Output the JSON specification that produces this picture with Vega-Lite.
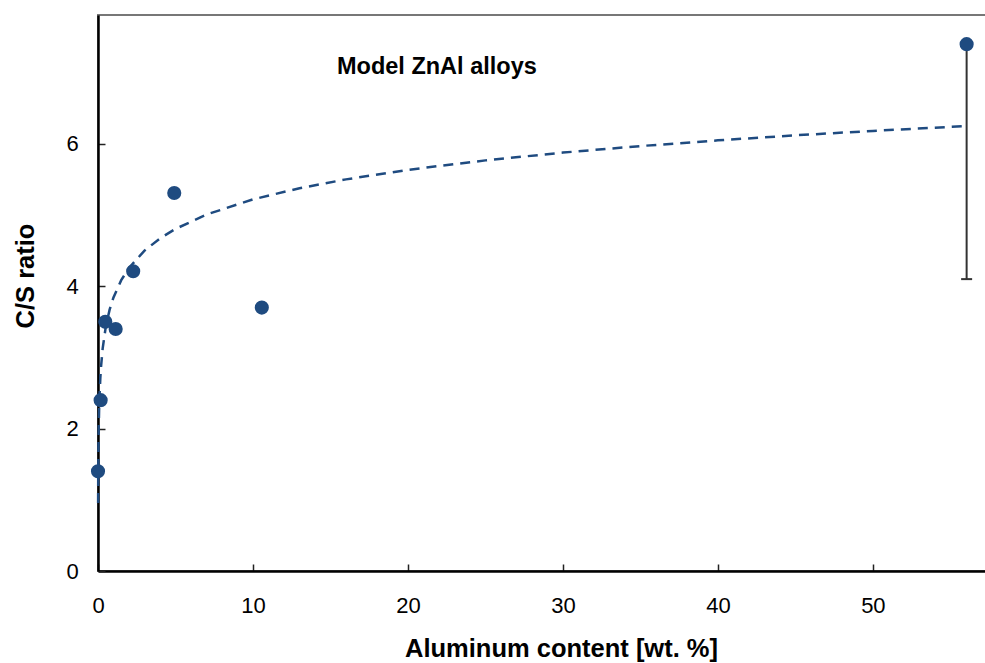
{
  "$schema": "https://vega.github.io/schema/vega-lite/v6.json",
  "width": 888,
  "height": 556,
  "autosize": {"type": "none"},
  "padding": {"left": 98, "top": 15, "right": 0, "bottom": 92},
  "background": "white",
  "config": {
    "view": {"stroke": "#777777", "strokeWidth": 2},
    "font": "Liberation Sans"
  },
  "title": {
    "text": "Model ZnAl alloys",
    "anchor": "start",
    "frame": "group",
    "dx": 239,
    "offset": -82,
    "baseline": "alphabetic",
    "fontSize": 23.5,
    "fontWeight": "bold",
    "color": "black",
    "font": "Liberation Sans"
  },
  "datasets": {
    "fit": [
      {"x": 0.008, "y": 0.956},
      {"x": 0.01, "y": 1.089},
      {"x": 0.015, "y": 1.331},
      {"x": 0.02, "y": 1.504},
      {"x": 0.03, "y": 1.746},
      {"x": 0.05, "y": 2.051},
      {"x": 0.07, "y": 2.253},
      {"x": 0.1, "y": 2.466},
      {"x": 0.15, "y": 2.709},
      {"x": 0.2, "y": 2.881},
      {"x": 0.3, "y": 3.123},
      {"x": 0.5, "y": 3.429},
      {"x": 0.75, "y": 3.671},
      {"x": 1, "y": 3.843},
      {"x": 1.5, "y": 4.085},
      {"x": 2, "y": 4.257},
      {"x": 3, "y": 4.5},
      {"x": 4, "y": 4.672},
      {"x": 5, "y": 4.805},
      {"x": 7, "y": 5.007},
      {"x": 10, "y": 5.22},
      {"x": 13, "y": 5.377},
      {"x": 16, "y": 5.501},
      {"x": 20, "y": 5.635},
      {"x": 25, "y": 5.768},
      {"x": 30, "y": 5.877},
      {"x": 35, "y": 5.969},
      {"x": 40, "y": 6.049},
      {"x": 45, "y": 6.12},
      {"x": 50, "y": 6.182},
      {"x": 56, "y": 6.25}
    ],
    "pts": [
      {"x": 0, "y": 1.4},
      {"x": 0.17, "y": 2.4},
      {"x": 0.47, "y": 3.5},
      {"x": 1.14, "y": 3.4},
      {"x": 2.27, "y": 4.21},
      {"x": 4.92, "y": 5.31},
      {"x": 10.57, "y": 3.7},
      {"x": 56.05, "y": 7.4}
    ],
    "err": [
      {"x": 56.05, "lo": 4.1, "hi": 7.4}
    ]
  },
  "encoding": {
    "x": {
      "field": "x",
      "type": "quantitative",
      "title": "Aluminum content [wt. %]",
      "scale": {"domain": [0, 57.3], "nice": false, "zero": false},
      "axis": {
        "values": [0, 10, 20, 30, 40, 50],
        "format": "d",
        "grid": false,
        "ticks": true,
        "labelFontSize": 22,
        "labelColor": "black",
        "labelFlush": false,
        "labelPadding": 31.4,
        "tickSize": -7,
        "tickColor": "#222222",
        "tickWidth": 1.5,
        "tickOpacity": 1,
        "domainColor": "black",
        "domainWidth": 2.5,
        "titleFontSize": 25.5,
        "titleFontWeight": "bold",
        "titleColor": "black",
        "titleX": 463,
        "titleY": 85,
        "titleBaseline": "alphabetic"
      }
    }
  },
  "layer": [
    {
      "data": {"name": "fit"},
      "mark": {"type": "line", "color": "#1f4b80", "strokeWidth": 2.5, "strokeDash": [10, 7]},
      "encoding": {
        "y": {
          "field": "y",
          "type": "quantitative",
          "title": "C/S ratio",
          "scale": {"domain": [0, 7.81], "nice": false},
          "axis": {
            "values": [0, 2, 4, 6],
            "format": "d",
            "grid": false,
            "ticks": true,
            "labelFontSize": 22,
            "labelColor": "black",
            "labelFlush": false,
            "labelPadding": 26.7,
            "tickSize": -7,
            "tickColor": "#222222",
            "tickWidth": 1.5,
            "tickOpacity": 1,
            "domainColor": "black",
            "domainWidth": 2.5,
            "titleFontSize": 25.5,
            "titleFontWeight": "bold",
            "titleColor": "black",
            "titleX": -64.5,
            "titleY": 260.5,
            "titleAngle": -90,
            "titleAlign": "center",
            "titleBaseline": "alphabetic"
          }
        }
      }
    },
    {
      "data": {"name": "err"},
      "mark": {"type": "rule", "color": "#333333", "strokeWidth": 2},
      "encoding": {
        "y": {"field": "lo", "type": "quantitative", "title": "C/S ratio"},
        "y2": {"field": "hi"}
      }
    },
    {
      "data": {"name": "err"},
      "mark": {"type": "tick", "orient": "horizontal", "color": "#333333", "size": 11, "thickness": 2, "opacity": 1},
      "encoding": {
        "y": {"field": "lo", "type": "quantitative", "title": "C/S ratio"}
      }
    },
    {
      "data": {"name": "pts"},
      "mark": {"type": "circle", "color": "#1f4b80", "size": 200, "opacity": 1},
      "encoding": {
        "y": {"field": "y", "type": "quantitative", "title": "C/S ratio"}
      }
    }
  ]
}
